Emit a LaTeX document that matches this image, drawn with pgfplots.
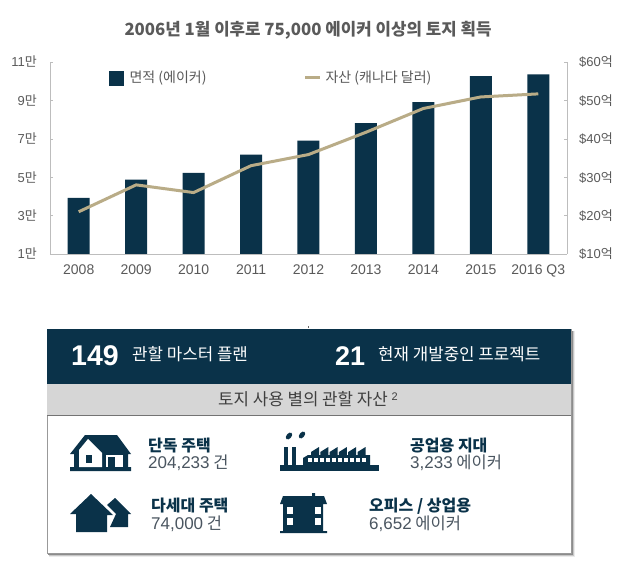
\documentclass[border=0pt]{standalone}
\usepackage{pgfplots}
\pgfplotsset{compat=1.18}
\usepackage{fontspec}
\setmainfont{Noto Sans CJK KR}
\newfontfamily\lat{Liberation Sans}
\definecolor{navy}{HTML}{0A3249}
\definecolor{tan}{HTML}{B9AC87}
\definecolor{txt}{HTML}{5A5A5A}
\definecolor{sub}{HTML}{4A5560}
\definecolor{band}{HTML}{D6D6D6}
\definecolor{axisc}{HTML}{BDBDBD}

% bars: area in units of 10000 acres; line: assets in 100M CAD
\pgfplotstableread{
x area assets
0 3.92 21.0
1 4.88 28.0
2 5.23 26.0
3 6.18 33.0
4 6.91 35.9
5 7.82 41.7
6 8.91 47.9
7 10.27 50.9
8 10.36 51.7
}\landdata

\pgfplotsset{
  base/.style={
    at={(50pt,-254pt)}, anchor=south west,
    scale only axis, width=517pt, height=192pt,
    xmin=-0.5, xmax=8.5,
    axis line style={axisc},
    major tick style={axisc},
    major tick length=3pt,
    tick align=inside,
    tick label style={text=txt},
  },
}

\begin{document}
\begin{tikzpicture}
\path[use as bounding box, fill=white] (0pt,0pt) rectangle (630pt,-564pt);

\node[text=txt, font=\fontsize{16.8}{17}\selectfont\bfseries] at (308pt,-30pt)
  {2006년 1월 이후로 75,000 에이커 이상의 토지 획득};

\begin{axis}[base,
    axis y line*=left, axis x line*=bottom,
    ymin=1, ymax=11,
    ytick={1,3,5,7,9,11},
    yticklabels={{\lat 1}만,{\lat 3}만,{\lat 5}만,{\lat 7}만,{\lat 9}만,{\lat 11}만},
    xtick=data,
    xticklabels={2008,2009,2010,2011,2012,2013,2014,2015,2016 Q3},
    x tick style={draw=none},
    yticklabel style={font=\fontsize{13}{13}\selectfont, inner sep=0pt, xshift=-13pt},
    xticklabel style={font=\lat\fontsize{14}{14}\selectfont, inner sep=0pt, yshift=-8pt},
    ybar, bar width=22pt,
  ]
  \addplot[fill=navy, draw=none] table[x=x, y=area] {\landdata};
\end{axis}

\begin{axis}[base,
    axis y line*=right, axis x line=none,
    ymin=10, ymax=60,
    ytick={10,20,30,40,50,60},
    yticklabels={{\lat \$10}억,{\lat \$20}억,{\lat \$30}억,{\lat \$40}억,{\lat \$50}억,{\lat \$60}억},
    yticklabel style={font=\fontsize{13}{13}\selectfont, inner sep=0pt, xshift=12pt},
    legend columns=2,
    legend cell align=left,
    legend style={
      at={(0.114,0.917)}, anchor=west, draw=none, fill=none, inner sep=0pt,
      font=\fontsize{14}{14}\selectfont, text=txt,
      /tikz/column 1/.style={column sep=4pt},
      /tikz/column 2/.style={column sep=95pt},
      /tikz/column 3/.style={column sep=2pt},
    },
  ]
  \addlegendimage{legend image code/.code={
      \fill[navy] (0pt,-7pt) rectangle (14pt,7pt);}}
  \addlegendentry{면적 (에이커)}
  \addplot[tan, line width=3pt, line join=round, legend image code/.code={
      \draw[tan, line width=3pt] (0pt,0pt) -- (15pt,0pt);}]
    table[x=x, y=assets] {\landdata};
  \addlegendentry{자산 (캐나다 달러)}
\end{axis}

% lower panel
\fill[black!8] (49pt,-331pt) rectangle (574.5pt,-557pt);
\fill[black!22] (48.5pt,-331pt) rectangle (573.5pt,-556pt);
\fill[black!45] (48pt,-331pt) rectangle (572.5pt,-555pt);
\fill[white] (47pt,-329pt) rectangle (571pt,-553pt);
\draw[black!40, line width=0.6pt] (47pt,-329pt) rectangle (571pt,-553pt);
\fill[navy] (47pt,-329pt) rectangle (571pt,-384pt);
\fill[band] (47pt,-384pt) rectangle (571pt,-415pt);
\draw[black!55, line width=0.7pt] (47pt,-415pt) -- (571pt,-415pt);
\fill[black!60] (307.5pt,-326.5pt) rectangle (309pt,-328pt);

\begin{scope}[every node/.style={inner sep=0pt, anchor=base west}]
\node[text=white, font=\lat\fontsize{28.5}{28}\selectfont\bfseries] at (71pt,-366pt) {149};
\node[text=white, font=\fontsize{16.8}{16}\selectfont] at (132pt,-361pt) {관할 마스터 플랜};
\node[text=white, font=\lat\fontsize{27}{27}\selectfont\bfseries] at (335pt,-366pt) {21};
\node[text=white, font=\fontsize{16.8}{16}\selectfont] at (378pt,-361pt) {현재 개발중인 프로젝트};
\node[text=txt!70!black, font=\fontsize{16.8}{16}\selectfont] at (218pt,-406pt) {토지 사용 별의 관할 자산 \raisebox{5pt}{\lat\fontsize{11}{11}\selectfont 2}};

\node[text=navy, font=\fontsize{16}{15}\selectfont\bfseries] at (148pt,-451pt) {단독 주택};
\node[text=sub, font=\fontsize{16.5}{15}\selectfont] at (148pt,-468pt) {{\lat\fontsize{17}{15}\selectfont 204,233} 건};
\node[text=navy, font=\fontsize{16}{15}\selectfont\bfseries] at (151pt,-511pt) {다세대 주택};
\node[text=sub, font=\fontsize{16.5}{15}\selectfont] at (151pt,-529pt) {{\lat\fontsize{17}{15}\selectfont 74,000} 건};
\node[text=navy, font=\fontsize{16}{15}\selectfont\bfseries] at (410pt,-451pt) {공업용 지대};
\node[text=sub, font=\fontsize{16.5}{15}\selectfont] at (410pt,-468pt) {{\lat\fontsize{17}{15}\selectfont 3,233} 에이커};
\node[text=navy, font=\fontsize{16}{15}\selectfont\bfseries] at (369pt,-511pt) {오피스 / 상업용};
\node[text=sub, font=\fontsize{16.5}{15}\selectfont] at (369pt,-529pt) {{\lat\fontsize{17}{15}\selectfont 6,652} 에이커};
\end{scope}

\begin{scope}[x=1pt, y=-1pt]
% house icon
\fill[navy] (70,454) -- (85,435) -- (117,435) -- (131,454) -- (128,454) -- (128,467) -- (131,467) -- (131,471)
  -- (70,471) -- (70,467) -- (74,467) -- (74,454) -- cycle;
\fill[white] (79,467) -- (79,450) -- (88,439) -- (102,453) -- (102,467) -- cycle;
\fill[navy] (86,455) rectangle (92,463);
\fill[white] (106,455) rectangle (123,467);
\fill[navy] (108,457) rectangle (115,467);
% two houses
\fill[navy] (70,514) -- (91,494) -- (113,515) -- (107,515) -- (107,532) -- (76,532) -- (76,514) -- cycle;
\fill[navy] (107,505) -- (115,498) -- (131,514) -- (128,514) -- (128,527) -- (110,527) -- (116,514) -- cycle;
% factory
\fill[navy] (280,465) rectangle (379,471);
\fill[navy] (284,447) rectangle (288,466);
\fill[navy] (292,447) rectangle (296,466);
\fill[navy, rotate around={50:(289,436)}] (289,436) ellipse (4 and 2.5);
\fill[navy, rotate around={50:(302,435)}] (302,435) ellipse (4 and 2.5);
\fill[navy] (303,466) -- (303,458) -- (308,455) -- (370,455) -- (370,466) -- cycle;
\foreach \t in {0,...,5}
  \fill[navy] ({311+9.3*\t},456) -- ({311+9.3*\t},452) -- ({319+9.3*\t},447) -- ({319+9.3*\t},456) -- cycle;
\foreach \t in {0,...,9}
  \fill[white] ({308+6*\t},458) rectangle ({311.5+6*\t},462);
% office
\fill[navy] (280,504) -- (283,496) -- (312,496) -- (312,493) -- (315,493) -- (315,496) -- (324,496) -- (327,504) -- (323,504)
  -- (323,531) -- (327,531) -- (327,533) -- (280,533) -- (280,531) -- (283,531) -- (283,504) -- cycle;
\foreach \wx in {287,315} \foreach \wy in {507,518}
  \fill[white] (\wx,\wy) rectangle ++(6,6.5);
\end{scope}
\end{tikzpicture}
\end{document}
